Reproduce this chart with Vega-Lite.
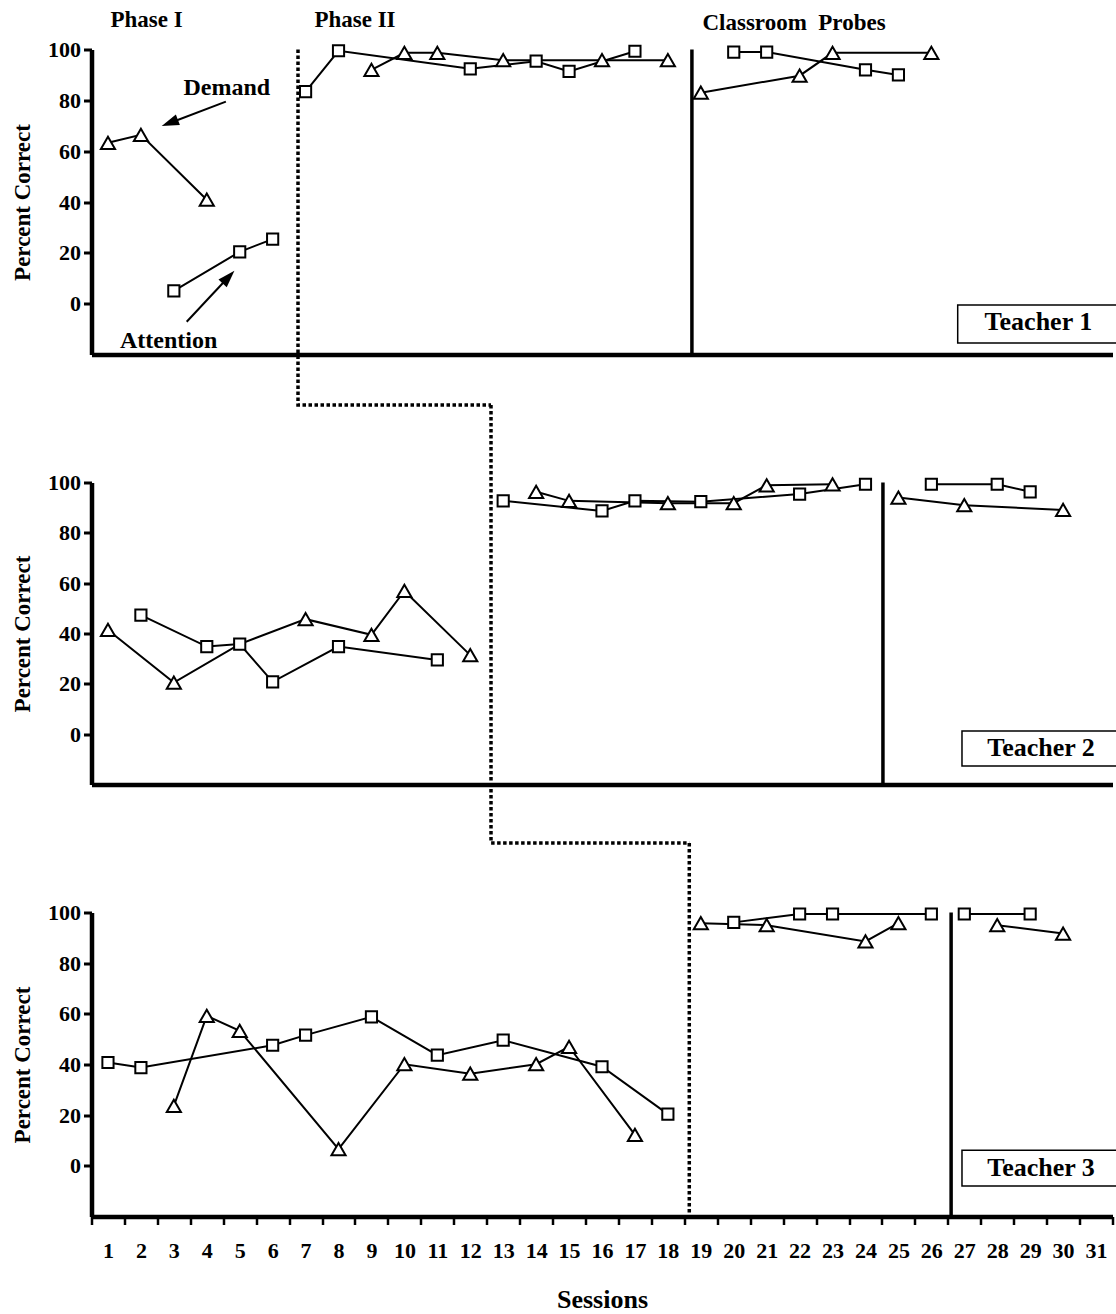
{
  "$schema": "https://vega.github.io/schema/vega-lite/v6.json",
  "autosize": {"type": "none"},
  "padding": {"left": 91.5, "top": 49.5, "right": 1024.5, "bottom": 1264.5},
  "background": "white",
  "spacing": 128,
  "bounds": "flush",
  "datasets": {
    "obs": [
      {"teacher": 1, "phase": "I", "cond": "Demand", "session": 1, "pct": 63.3},
      {"teacher": 1, "phase": "I", "cond": "Demand", "session": 2, "pct": 66.4},
      {"teacher": 1, "phase": "I", "cond": "Demand", "session": 4, "pct": 40.9},
      {"teacher": 1, "phase": "I", "cond": "Attention", "session": 3, "pct": 5.0},
      {"teacher": 1, "phase": "I", "cond": "Attention", "session": 5, "pct": 20.4},
      {"teacher": 1, "phase": "I", "cond": "Attention", "session": 6, "pct": 25.4},
      {"teacher": 1, "phase": "II", "cond": "Attention", "session": 7, "pct": 83.4},
      {"teacher": 1, "phase": "II", "cond": "Attention", "session": 8, "pct": 99.5},
      {"teacher": 1, "phase": "II", "cond": "Attention", "session": 12, "pct": 92.4},
      {"teacher": 1, "phase": "II", "cond": "Attention", "session": 14, "pct": 95.4},
      {"teacher": 1, "phase": "II", "cond": "Attention", "session": 15, "pct": 91.4},
      {"teacher": 1, "phase": "II", "cond": "Attention", "session": 17, "pct": 99.3},
      {"teacher": 1, "phase": "II", "cond": "Demand", "session": 9, "pct": 92.0},
      {"teacher": 1, "phase": "II", "cond": "Demand", "session": 10, "pct": 98.7},
      {"teacher": 1, "phase": "II", "cond": "Demand", "session": 11, "pct": 98.7},
      {"teacher": 1, "phase": "II", "cond": "Demand", "session": 13, "pct": 95.8},
      {"teacher": 1, "phase": "II", "cond": "Demand", "session": 16, "pct": 95.8},
      {"teacher": 1, "phase": "II", "cond": "Demand", "session": 18, "pct": 95.8},
      {"teacher": 1, "phase": "P", "cond": "Demand", "session": 19, "pct": 83.0},
      {"teacher": 1, "phase": "P", "cond": "Demand", "session": 22, "pct": 89.7},
      {"teacher": 1, "phase": "P", "cond": "Demand", "session": 23, "pct": 98.7},
      {"teacher": 1, "phase": "P", "cond": "Demand", "session": 26, "pct": 98.7},
      {"teacher": 1, "phase": "P", "cond": "Attention", "session": 20, "pct": 99.0},
      {"teacher": 1, "phase": "P", "cond": "Attention", "session": 21, "pct": 99.0},
      {"teacher": 1, "phase": "P", "cond": "Attention", "session": 24, "pct": 92.0},
      {"teacher": 1, "phase": "P", "cond": "Attention", "session": 25, "pct": 90.0},

      {"teacher": 2, "phase": "I", "cond": "Demand", "session": 1, "pct": 41.4},
      {"teacher": 2, "phase": "I", "cond": "Demand", "session": 3, "pct": 20.5},
      {"teacher": 2, "phase": "I", "cond": "Demand", "session": 5, "pct": 35.8},
      {"teacher": 2, "phase": "I", "cond": "Demand", "session": 7, "pct": 45.7},
      {"teacher": 2, "phase": "I", "cond": "Demand", "session": 9, "pct": 39.5},
      {"teacher": 2, "phase": "I", "cond": "Demand", "session": 10, "pct": 56.9},
      {"teacher": 2, "phase": "I", "cond": "Demand", "session": 12, "pct": 31.4},
      {"teacher": 2, "phase": "I", "cond": "Attention", "session": 2, "pct": 47.3},
      {"teacher": 2, "phase": "I", "cond": "Attention", "session": 4, "pct": 34.8},
      {"teacher": 2, "phase": "I", "cond": "Attention", "session": 5, "pct": 35.8},
      {"teacher": 2, "phase": "I", "cond": "Attention", "session": 6, "pct": 20.8},
      {"teacher": 2, "phase": "I", "cond": "Attention", "session": 8, "pct": 34.8},
      {"teacher": 2, "phase": "I", "cond": "Attention", "session": 11, "pct": 29.5},
      {"teacher": 2, "phase": "II", "cond": "Attention", "session": 13, "pct": 92.7},
      {"teacher": 2, "phase": "II", "cond": "Attention", "session": 16, "pct": 88.7},
      {"teacher": 2, "phase": "II", "cond": "Attention", "session": 17, "pct": 92.7},
      {"teacher": 2, "phase": "II", "cond": "Attention", "session": 19, "pct": 92.4},
      {"teacher": 2, "phase": "II", "cond": "Attention", "session": 22, "pct": 95.4},
      {"teacher": 2, "phase": "II", "cond": "Attention", "session": 24, "pct": 99.3},
      {"teacher": 2, "phase": "II", "cond": "Demand", "session": 14, "pct": 96.3},
      {"teacher": 2, "phase": "II", "cond": "Demand", "session": 15, "pct": 92.7},
      {"teacher": 2, "phase": "II", "cond": "Demand", "session": 18, "pct": 91.8},
      {"teacher": 2, "phase": "II", "cond": "Demand", "session": 20, "pct": 91.8},
      {"teacher": 2, "phase": "II", "cond": "Demand", "session": 21, "pct": 98.9},
      {"teacher": 2, "phase": "II", "cond": "Demand", "session": 23, "pct": 99.3},
      {"teacher": 2, "phase": "P", "cond": "Demand", "session": 25, "pct": 94.0},
      {"teacher": 2, "phase": "P", "cond": "Demand", "session": 27, "pct": 91.0},
      {"teacher": 2, "phase": "P", "cond": "Demand", "session": 30, "pct": 89.1},
      {"teacher": 2, "phase": "P", "cond": "Attention", "session": 26, "pct": 99.3},
      {"teacher": 2, "phase": "P", "cond": "Attention", "session": 28, "pct": 99.3},
      {"teacher": 2, "phase": "P", "cond": "Attention", "session": 29, "pct": 96.3},

      {"teacher": 3, "phase": "I", "cond": "Attention", "session": 1, "pct": 40.8},
      {"teacher": 3, "phase": "I", "cond": "Attention", "session": 2, "pct": 38.8},
      {"teacher": 3, "phase": "I", "cond": "Attention", "session": 6, "pct": 47.6},
      {"teacher": 3, "phase": "I", "cond": "Attention", "session": 7, "pct": 51.6},
      {"teacher": 3, "phase": "I", "cond": "Attention", "session": 9, "pct": 58.8},
      {"teacher": 3, "phase": "I", "cond": "Attention", "session": 11, "pct": 43.7},
      {"teacher": 3, "phase": "I", "cond": "Attention", "session": 13, "pct": 49.6},
      {"teacher": 3, "phase": "I", "cond": "Attention", "session": 16, "pct": 39.1},
      {"teacher": 3, "phase": "I", "cond": "Attention", "session": 18, "pct": 20.4},
      {"teacher": 3, "phase": "I", "cond": "Demand", "session": 3, "pct": 23.7},
      {"teacher": 3, "phase": "I", "cond": "Demand", "session": 4, "pct": 59.2},
      {"teacher": 3, "phase": "I", "cond": "Demand", "session": 5, "pct": 53.3},
      {"teacher": 3, "phase": "I", "cond": "Demand", "session": 8, "pct": 6.6},
      {"teacher": 3, "phase": "I", "cond": "Demand", "session": 10, "pct": 40.1},
      {"teacher": 3, "phase": "I", "cond": "Demand", "session": 12, "pct": 36.4},
      {"teacher": 3, "phase": "I", "cond": "Demand", "session": 14, "pct": 40.1},
      {"teacher": 3, "phase": "I", "cond": "Demand", "session": 15, "pct": 47.0},
      {"teacher": 3, "phase": "I", "cond": "Demand", "session": 17, "pct": 12.2},
      {"teacher": 3, "phase": "II", "cond": "Demand", "session": 19, "pct": 95.8},
      {"teacher": 3, "phase": "II", "cond": "Demand", "session": 21, "pct": 95.0},
      {"teacher": 3, "phase": "II", "cond": "Demand", "session": 24, "pct": 88.6},
      {"teacher": 3, "phase": "II", "cond": "Demand", "session": 25, "pct": 95.8},
      {"teacher": 3, "phase": "II", "cond": "Attention", "session": 20, "pct": 96.1},
      {"teacher": 3, "phase": "II", "cond": "Attention", "session": 22, "pct": 99.4},
      {"teacher": 3, "phase": "II", "cond": "Attention", "session": 23, "pct": 99.4},
      {"teacher": 3, "phase": "II", "cond": "Attention", "session": 26, "pct": 99.4},
      {"teacher": 3, "phase": "P", "cond": "Attention", "session": 27, "pct": 99.4},
      {"teacher": 3, "phase": "P", "cond": "Attention", "session": 29, "pct": 99.4},
      {"teacher": 3, "phase": "P", "cond": "Demand", "session": 28, "pct": 95.0},
      {"teacher": 3, "phase": "P", "cond": "Demand", "session": 30, "pct": 91.7}
    ]
  },
  "vconcat": [
    {
      "width": 1021,
      "height": 305,
      "layer": [
        {
          "data": {"name": "obs"},
          "transform": [{"filter": "datum.teacher == 1"}],
          "mark": {"type": "line", "color": "black", "strokeWidth": 2},
          "encoding": {
            "x": {"field": "session", "type": "quantitative", "scale": {"domain": [0.5, 31.5], "nice": false, "zero": false},
                  "axis": {"ticks": false, "labels": false, "title": null, "domainWidth": 4.5}},
            "y": {"field": "pct", "type": "quantitative", "scale": {"domain": [-20, 100], "nice": false, "zero": false},
                  "axis": {"values": [0, 20, 40, 60, 80, 100], "tickSize": 8, "tickWidth": 3, "labelPadding": 3, "domainWidth": 4.5, "title": "Percent Correct", "titleFontSize": 23, "titlePadding": 13, "labelFlush": false}},
            "detail": [{"field": "cond"}, {"field": "phase"}]
          }
        },
        {
          "data": {"values": [{"session": 18.73, "pct": 100, "pct2": -20}]},
          "mark": {"type": "rule", "color": "black", "strokeWidth": 3.5},
          "encoding": {
            "x": {"field": "session", "type": "quantitative"},
            "y": {"field": "pct", "type": "quantitative"},
            "y2": {"field": "pct2"}
          }
        },
        {
          "data": {"values": [{"session": 6.77, "pct": 100, "k": 1}, {"session": 6.77, "pct": -39.87, "k": 2}, {"session": 12.63, "pct": -39.87, "k": 3}]},
          "mark": {"type": "line", "color": "black", "strokeWidth": 3.5, "strokeDash": [3.5, 2.5]},
          "encoding": {
            "x": {"field": "session", "type": "quantitative"},
            "y": {"field": "pct", "type": "quantitative"},
            "order": {"field": "k"}
          }
        },
        {
          "data": {"name": "obs"},
          "transform": [{"filter": "datum.teacher == 1"}],
          "mark": {"type": "point", "filled": true, "fill": "white", "stroke": "black", "strokeWidth": 2, "opacity": 1},
          "encoding": {
            "x": {"field": "session", "type": "quantitative"},
            "y": {"field": "pct", "type": "quantitative"},
            "shape": {"field": "cond", "type": "nominal", "scale": {"domain": ["Demand", "Attention"], "range": ["triangle-up", "square"]}, "legend": null},
            "size": {"field": "cond", "type": "ordinal", "scale": {"domain": ["Demand", "Attention"], "range": [200, 125]}, "legend": null}
          }
        },
        {
          "data": {"values": [{"session": 26.8, "session2": 31.7, "pct": -0.5, "pct2": -15.5}]},
          "mark": {"type": "rect", "fill": "white", "stroke": "black", "strokeWidth": 1.5},
          "encoding": {
            "x": {"field": "session", "type": "quantitative"},
            "x2": {"field": "session2"},
            "y": {"field": "pct", "type": "quantitative"},
            "y2": {"field": "pct2"}
          }
        },
        {
          "data": {"values": [{"session": 29.25, "pct": -7.4, "label": "Teacher 1"}]},
          "mark": {"type": "text", "font": "Liberation Serif", "fontWeight": "bold", "fontSize": 26, "align": "center", "baseline": "middle", "color": "black"},
          "encoding": {
            "x": {"field": "session", "type": "quantitative"},
            "y": {"field": "pct", "type": "quantitative"},
            "text": {"field": "label"}
          }
        },
        {
          "data": {"values": [
            {"session": 2.17, "pct": 111.6, "label": "Phase I"},
            {"session": 8.5, "pct": 111.6, "label": "Phase II"},
            {"session": 21.83, "pct": 110.6, "label": "Classroom\u00a0 Probes"}
          ]},
          "mark": {"type": "text", "font": "Liberation Serif", "fontWeight": "bold", "fontSize": 23, "align": "center", "baseline": "middle", "color": "black"},
          "encoding": {
            "x": {"field": "session", "type": "quantitative"},
            "y": {"field": "pct", "type": "quantitative"},
            "text": {"field": "label"}
          }
        },
        {
          "data": {"values": [
            {"session": 4.61, "pct": 84.9, "label": "Demand"},
            {"session": 2.84, "pct": -14.7, "label": "Attention"}
          ]},
          "mark": {"type": "text", "font": "Liberation Serif", "fontWeight": "bold", "fontSize": 24, "align": "center", "baseline": "middle", "color": "black"},
          "encoding": {
            "x": {"field": "session", "type": "quantitative"},
            "y": {"field": "pct", "type": "quantitative"},
            "text": {"field": "label"}
          }
        },
        {
          "data": {"values": [
            {"session": 4.58, "pct": 79.5, "session2": 2.877, "pct2": 71.1},
            {"session": 3.39, "pct": -7.1, "session2": 4.66, "pct2": 10.5}
          ]},
          "mark": {"type": "rule", "color": "black", "strokeWidth": 2},
          "encoding": {
            "x": {"field": "session", "type": "quantitative"},
            "y": {"field": "pct", "type": "quantitative"},
            "x2": {"field": "session2"},
            "y2": {"field": "pct2"}
          }
        },
        {
          "data": {"values": [{"session": 2.877, "pct": 71.1}]},
          "mark": {"type": "point", "shape": "M0,-1L-0.65,1L0.65,1Z", "filled": true, "color": "black", "opacity": 1, "size": 300, "angle": 249},
          "encoding": {
            "x": {"field": "session", "type": "quantitative"},
            "y": {"field": "pct", "type": "quantitative"}
          }
        },
        {
          "data": {"values": [{"session": 4.66, "pct": 10.5}]},
          "mark": {"type": "point", "shape": "M0,-1L-0.65,1L0.65,1Z", "filled": true, "color": "black", "opacity": 1, "size": 300, "angle": 43},
          "encoding": {
            "x": {"field": "session", "type": "quantitative"},
            "y": {"field": "pct", "type": "quantitative"}
          }
        }
      ]
    },
    {
      "width": 1021,
      "height": 302,
      "layer": [
        {
          "data": {"name": "obs"},
          "transform": [{"filter": "datum.teacher == 2"}],
          "mark": {"type": "line", "color": "black", "strokeWidth": 2},
          "encoding": {
            "x": {"field": "session", "type": "quantitative", "scale": {"domain": [0.5, 31.5], "nice": false, "zero": false},
                  "axis": {"ticks": false, "labels": false, "title": null, "domainWidth": 4.5}},
            "y": {"field": "pct", "type": "quantitative", "scale": {"domain": [-20, 100], "nice": false, "zero": false},
                  "axis": {"values": [0, 20, 40, 60, 80, 100], "tickSize": 8, "tickWidth": 3, "labelPadding": 3, "domainWidth": 4.5, "title": "Percent Correct", "titleFontSize": 23, "titlePadding": 13, "labelFlush": false}},
            "detail": [{"field": "cond"}, {"field": "phase"}]
          }
        },
        {
          "data": {"values": [{"session": 24.53, "pct": 100, "pct2": -20}]},
          "mark": {"type": "rule", "color": "black", "strokeWidth": 3.5},
          "encoding": {
            "x": {"field": "session", "type": "quantitative"},
            "y": {"field": "pct", "type": "quantitative"},
            "y2": {"field": "pct2"}
          }
        },
        {
          "data": {"values": [{"session": 12.63, "pct": 130.8, "k": 1}, {"session": 12.63, "pct": -43.2, "k": 2}, {"session": 18.65, "pct": -43.2, "k": 3}]},
          "mark": {"type": "line", "color": "black", "strokeWidth": 3.5, "strokeDash": [3.5, 2.5]},
          "encoding": {
            "x": {"field": "session", "type": "quantitative"},
            "y": {"field": "pct", "type": "quantitative"},
            "order": {"field": "k"}
          }
        },
        {
          "data": {"name": "obs"},
          "transform": [{"filter": "datum.teacher == 2 && !(datum.session == 5 && datum.cond == 'Demand')"}],
          "mark": {"type": "point", "filled": true, "fill": "white", "stroke": "black", "strokeWidth": 2, "opacity": 1},
          "encoding": {
            "x": {"field": "session", "type": "quantitative"},
            "y": {"field": "pct", "type": "quantitative"},
            "shape": {"field": "cond", "type": "nominal", "scale": {"domain": ["Demand", "Attention"], "range": ["triangle-up", "square"]}, "legend": null},
            "size": {"field": "cond", "type": "ordinal", "scale": {"domain": ["Demand", "Attention"], "range": [200, 125]}, "legend": null}
          }
        },
        {
          "data": {"values": [{"session": 26.93, "session2": 31.7, "pct": 1.3, "pct2": -12.6}]},
          "mark": {"type": "rect", "fill": "white", "stroke": "black", "strokeWidth": 1.5},
          "encoding": {
            "x": {"field": "session", "type": "quantitative"},
            "x2": {"field": "session2"},
            "y": {"field": "pct", "type": "quantitative"},
            "y2": {"field": "pct2"}
          }
        },
        {
          "data": {"values": [{"session": 29.33, "pct": -5.5, "label": "Teacher 2"}]},
          "mark": {"type": "text", "font": "Liberation Serif", "fontWeight": "bold", "fontSize": 26, "align": "center", "baseline": "middle", "color": "black"},
          "encoding": {
            "x": {"field": "session", "type": "quantitative"},
            "y": {"field": "pct", "type": "quantitative"},
            "text": {"field": "label"}
          }
        }
      ]
    },
    {
      "width": 1021,
      "height": 304,
      "layer": [
        {
          "data": {"name": "obs"},
          "transform": [{"filter": "datum.teacher == 3"}],
          "mark": {"type": "line", "color": "black", "strokeWidth": 2},
          "encoding": {
            "x": {"field": "session", "type": "quantitative", "scale": {"domain": [0.5, 31.5], "nice": false, "zero": false},
                  "axis": {"values": [0.5, 1.5, 2.5, 3.5, 4.5, 5.5, 6.5, 7.5, 8.5, 9.5, 10.5, 11.5, 12.5, 13.5, 14.5, 15.5, 16.5, 17.5, 18.5, 19.5, 20.5, 21.5, 22.5, 23.5, 24.5, 25.5, 26.5, 27.5, 28.5, 29.5, 30.5, 31.5],
                           "tickCount": 40,
                           "labelExpr": "datum.value < 31 ? '' + (datum.value + 0.5) : ''",
                           "labelOffset": 16.47, "labelFlush": false, "labelOverlap": false, "labelSeparation": 0, "labelBound": false,
                           "tickSize": 8, "tickWidth": 2.5, "labelPadding": 16, "domainWidth": 4.5,
                           "title": "Sessions", "titleFontSize": 26, "titlePadding": 25}},
            "y": {"field": "pct", "type": "quantitative", "scale": {"domain": [-20, 100], "nice": false, "zero": false},
                  "axis": {"values": [0, 20, 40, 60, 80, 100], "tickSize": 8, "tickWidth": 3, "labelPadding": 3, "domainWidth": 4.5, "title": "Percent Correct", "titleFontSize": 23, "titlePadding": 13, "labelFlush": false}},
            "detail": [{"field": "cond"}, {"field": "phase"}]
          }
        },
        {
          "data": {"values": [{"session": 26.6, "pct": 100, "pct2": -20}]},
          "mark": {"type": "rule", "color": "black", "strokeWidth": 3.5},
          "encoding": {
            "x": {"field": "session", "type": "quantitative"},
            "y": {"field": "pct", "type": "quantitative"},
            "y2": {"field": "pct2"}
          }
        },
        {
          "data": {"values": [{"session": 18.65, "pct": 127.4, "k": 1}, {"session": 18.65, "pct": -20, "k": 2}]},
          "mark": {"type": "line", "color": "black", "strokeWidth": 3.5, "strokeDash": [3.5, 2.5]},
          "encoding": {
            "x": {"field": "session", "type": "quantitative"},
            "y": {"field": "pct", "type": "quantitative"},
            "order": {"field": "k"}
          }
        },
        {
          "data": {"name": "obs"},
          "transform": [{"filter": "datum.teacher == 3"}],
          "mark": {"type": "point", "filled": true, "fill": "white", "stroke": "black", "strokeWidth": 2, "opacity": 1},
          "encoding": {
            "x": {"field": "session", "type": "quantitative"},
            "y": {"field": "pct", "type": "quantitative"},
            "shape": {"field": "cond", "type": "nominal", "scale": {"domain": ["Demand", "Attention"], "range": ["triangle-up", "square"]}, "legend": null},
            "size": {"field": "cond", "type": "ordinal", "scale": {"domain": ["Demand", "Attention"], "range": [200, 125]}, "legend": null}
          }
        },
        {
          "data": {"values": [{"session": 26.93, "session2": 31.7, "pct": 6.2, "pct2": -8.0}]},
          "mark": {"type": "rect", "fill": "white", "stroke": "black", "strokeWidth": 1.5},
          "encoding": {
            "x": {"field": "session", "type": "quantitative"},
            "x2": {"field": "session2"},
            "y": {"field": "pct", "type": "quantitative"},
            "y2": {"field": "pct2"}
          }
        },
        {
          "data": {"values": [{"session": 29.33, "pct": -0.9, "label": "Teacher 3"}]},
          "mark": {"type": "text", "font": "Liberation Serif", "fontWeight": "bold", "fontSize": 26, "align": "center", "baseline": "middle", "color": "black"},
          "encoding": {
            "x": {"field": "session", "type": "quantitative"},
            "y": {"field": "pct", "type": "quantitative"},
            "text": {"field": "label"}
          }
        }
      ]
    }
  ],
  "config": {
    "view": {"stroke": null},
    "axis": {
      "grid": false,
      "labelOverlap": false,
      "domainColor": "black",
      "tickColor": "black",
      "labelColor": "black",
      "titleColor": "black",
      "labelFont": "Liberation Serif",
      "titleFont": "Liberation Serif",
      "labelFontWeight": "bold",
      "titleFontWeight": "bold",
      "labelFontSize": 22
    }
  }
}
